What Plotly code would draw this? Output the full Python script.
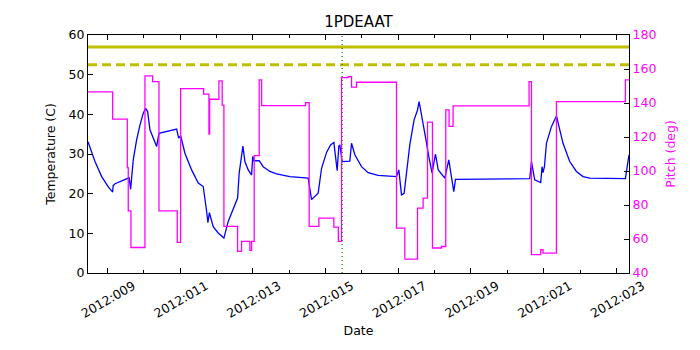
import plotly.graph_objects as go

# ---- data (day-of-year 2012, fractional) ----
temp_days = [8.470, 8.662, 8.846, 9.027, 9.148, 9.160, 9.212, 9.577, 9.600, 9.643,
             9.714, 9.808, 9.899, 9.989, 10.055, 10.110, 10.173, 10.358, 10.421, 10.907,
             10.962, 11.017, 11.135, 11.319, 11.501, 11.638, 11.732, 11.767, 11.808, 11.913,
             12.050, 12.207, 12.325, 12.462, 12.583, 12.627, 12.710, 12.729, 12.784, 12.875,
             12.968, 13.000, 13.030, 13.177, 13.287, 13.471, 13.655, 14.021, 14.524, 14.617,
             14.798, 14.892, 15.029, 15.139, 15.230, 15.321, 15.367, 15.395, 15.458, 15.669,
             15.716, 15.807, 15.991, 16.172, 16.447, 16.953, 17.016, 17.090, 17.162, 17.228,
             17.318, 17.436, 17.530, 17.574, 17.656, 17.731, 17.840, 17.931, 18.024, 18.100,
             18.280, 18.390, 18.527, 18.574, 20.616, 20.663, 20.753, 20.918, 20.954, 20.981,
             21.020, 21.075, 21.212, 21.350, 21.531, 21.715, 21.899, 22.081, 22.265, 23.246,
             23.345]
temp_vals = [33.1, 28.1, 24.3, 21.7, 20.4, 22.0, 22.5, 23.9, 24.2, 21.1,
             28.5, 33.6, 37.3, 40.3, 41.5, 40.7, 36.1, 31.9, 35.2, 36.3,
             34.0, 34.6, 30.2, 26.0, 22.7, 21.8, 15.5, 12.7, 15.2, 11.7,
             10.1, 8.8, 13.0, 16.4, 18.9, 25.2, 31.9, 32.0, 28.1, 26.0,
             24.7, 29.4, 28.3, 28.3, 26.8, 25.6, 25.0, 24.3, 23.9, 18.5,
             20.1, 26.4, 30.4, 32.3, 32.9, 25.8, 32.0, 32.3, 28.1, 28.2,
             32.7, 29.8, 26.8, 25.3, 24.6, 24.3, 26.0, 19.7, 20.1, 26.0,
             32.3, 38.6, 41.1, 43.2, 39.4, 35.2, 29.4, 25.2, 30.0, 26.0,
             23.9, 28.5, 20.5, 23.6, 23.8, 28.1, 23.5, 22.8, 26.8, 25.3,
             26.8, 32.7, 36.9, 39.6, 32.7, 28.1, 25.6, 24.3, 23.9, 23.8,
             29.8]

pitch_days = [8.470, 9.148, 9.550, 9.577, 9.651, 10.036, 10.248, 10.421, 10.924, 11.017,
              11.649, 11.795, 11.814, 12.070, 12.160, 12.207, 12.583, 12.693, 12.921, 12.968,
              13.040, 13.177, 13.243, 14.452, 14.551, 14.818, 15.230, 15.353, 15.441, 15.623,
              15.716, 15.853, 16.953, 17.181, 17.530, 17.684, 17.805, 17.942, 18.189, 18.307,
              18.398, 18.508, 20.597, 20.663, 20.918, 20.981, 21.350, 23.246, 23.345]
pitch_vals = [146.5, 130.5, 102.0, 76.6, 55.0, 155.9, 152.6, 76.6, 58.0, 148.5,
              145.2, 121.7, 142.2, 153.0, 138.8, 67.4, 52.7, 58.6, 53.3, 58.6,
              109.1, 153.6, 138.5, 140.2, 67.4, 72.3, 67.0, 58.6, 154.9, 155.5,
              149.3, 152.2, 66.4, 48.2, 78.2, 84.1, 128.7, 54.7, 55.6, 135.9,
              126.2, 138.3, 152.6, 50.8, 53.7, 51.7, 140.8, 153.6, 153.6]

planning_limit = 57.0
caution_limit = 52.5
marker_day = 15.458

x_tick_vals = [9, 11, 13, 15, 17, 19, 21, 23]
x_tick_text = ["2012:%03d" % d for d in x_tick_vals]
x_range = [8.470, 23.345]

FONT = "DejaVu Sans"
MAG = "#ff00ff"

fig = go.Figure()
fig.add_trace(go.Scatter(x=temp_days, y=temp_vals, mode="lines",
                         line=dict(color="#0000ff", width=1.3), yaxis="y", showlegend=False))
fig.add_trace(go.Scatter(x=pitch_days, y=pitch_vals, mode="lines",
                         line=dict(color=MAG, width=1.3, shape="hv"), yaxis="y2", showlegend=False))
fig.add_trace(go.Scatter(x=x_range, y=[planning_limit] * 2, mode="lines",
                         line=dict(color="#bfbf00", width=3), yaxis="y", showlegend=False))
fig.add_trace(go.Scatter(x=x_range, y=[caution_limit] * 2, mode="lines",
                         line=dict(color="#bfbf00", width=3, dash="9px,5px"), yaxis="y", showlegend=False))

fig.add_shape(type="line", x0=marker_day, x1=marker_day, xref="x", y0=0, y1=1, yref="paper",
              line=dict(color="#008000", width=1.2, dash="1px,3px"))

# page body has an 8px margin, so the figure is sized/shifted to compensate
fig.update_layout(
    width=692, height=342,
    margin=dict(l=80, r=71, t=27, b=77, autoexpand=False),
    paper_bgcolor="white", plot_bgcolor="white",
    font=dict(family=FONT, size=12.5, color="black"),
    title=dict(text="1PDEAAT", x=0.5, xref="paper", xanchor="center",
               yref="container", y=1 - 14 / 342, yanchor="middle",
               font=dict(family=FONT, size=15, color="black")),
    xaxis=dict(range=x_range, tickmode="array", tickvals=x_tick_vals, ticktext=x_tick_text,
               tickangle=-30, ticks="inside", ticklen=5, tickcolor="black",
               ticklabelshift=26, ticklabelstandoff=0,
               showline=True, linecolor="black", linewidth=1.2, mirror="ticks",
               showgrid=False, zeroline=False,
               minor=dict(ticks="inside", ticklen=3, tick0=8, dtick=1, tickcolor="black", showgrid=False),
               title=dict(text="Date", font=dict(size=12.5), standoff=6),
               tickfont=dict(size=12.5)),
    yaxis=dict(range=[0, 60], tickvals=[0, 10, 20, 30, 40, 50, 60], ticks="inside", ticklen=5,
               tickcolor="black", showline=True, linecolor="black", linewidth=1.2,
               showgrid=False, zeroline=False,
               title=dict(text="Temperature (C)", font=dict(size=12.5), standoff=10),
               tickfont=dict(size=12.5)),
    yaxis2=dict(range=[40, 180], tickvals=[40, 60, 80, 100, 120, 140, 160, 180], overlaying="y",
                side="right", ticks="inside", ticklen=5, tickcolor="black",
                showline=True, linecolor="black", linewidth=1.2,
                showgrid=False, zeroline=False,
                title=dict(text="Pitch (deg)", font=dict(size=12.5, color=MAG), standoff=10),
                tickfont=dict(size=12.5, color=MAG)),
)

fig.write_html("out.html")
